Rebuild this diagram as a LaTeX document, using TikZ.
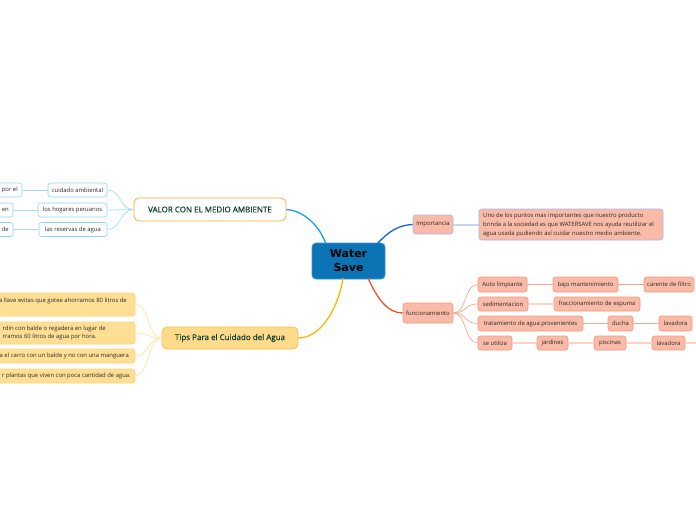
\documentclass[tikz,border=0pt]{standalone}
\usepackage{fontspec}
\setmainfont{Open Sans}
\newfontfamily\centerfont{DejaVu Sans}
\newfontfamily\semib[FakeBold=0.35]{Open Sans}
\definecolor{cfill}{HTML}{0A74B4}
\definecolor{cborder}{HTML}{3D92CF}
\definecolor{bluec}{HTML}{1BA1E2}
\definecolor{darkblue}{HTML}{1565D8}
\definecolor{yelc}{HTML}{F9B800}
\definecolor{redc}{HTML}{F0502A}
\definecolor{orangeb}{HTML}{F8A93A}
\definecolor{lblueb}{HTML}{8FD3F4}
\definecolor{lbluec}{HTML}{A6DCF5}
\definecolor{tipfill}{HTML}{FEDB8B}
\definecolor{tipborder}{HTML}{FBBF45}
\definecolor{tchfill}{HTML}{FEDF94}
\definecolor{tchborder}{HTML}{FDD57C}
\definecolor{tchc}{HTML}{FDE5A5}
\definecolor{salfill}{HTML}{F9BBA7}
\definecolor{salborder}{HTML}{F4977A}
\definecolor{salc}{HTML}{F6A68E}
\definecolor{salcl}{HTML}{FCD3C5}
\definecolor{impborder}{HTML}{A4B8EE}
\definecolor{impc}{HTML}{C0D6F5}
\definecolor{greentxt}{HTML}{0D3B2E}
\definecolor{txt}{HTML}{2B2B2B}
\tikzset{
  sbox/.style={draw, rounded corners=2.5pt, inner sep=0pt, line width=0.6pt,
    font=\fontsize{5.9}{7}\selectfont, text=txt},
  bluebox/.style={sbox, draw=lblueb, fill=white},
  tipbox/.style={sbox, draw=tchborder, fill=tchfill},
  salbox/.style={sbox, draw=salborder, fill=salfill},
  impbox/.style={sbox, draw=impborder, fill=salfill},
  bigbox/.style={draw, rounded corners=5pt, inner sep=0pt, line width=0.8pt,
    font=\semib\fontsize{8}{9.5}\selectfont, text=greentxt},
  tline/.style={inner sep=0pt, font=\fontsize{5.9}{8.7}\selectfont, text=txt, align=left},
  maincon/.style={line width=1.3pt},
  subcon/.style={line width=0.7pt},
}
\begin{document}
\begin{tikzpicture}[x=1pt,y=-1pt]
\useasboundingbox (0,0) rectangle (696,520);
\fill[white] (0,0) rectangle (696,520);

% ---------- connector start points on the centre node ----------
\coordinate (cA) at (326,244);
\coordinate (cB) at (343,278);
\coordinate (cC) at (377,244);
\coordinate (cD) at (368,278);

% ---------- nodes ----------
\node[draw=cborder, fill=cfill, rounded corners=4pt, line width=0.8pt,
  minimum width=73pt, minimum height=36pt, inner sep=0pt, align=center,
  font=\centerfont\bfseries\fontsize{11}{14}\selectfont] (center) at (348.5,261) {Water\\Save};

\node[bigbox, draw=orangeb, fill=white, minimum width=152pt, minimum height=23pt] (valor) at (210,209.5) {VALOR CON EL MEDIO AMBIENTE};
\node[bigbox, draw=tipborder, fill=tipfill, minimum width=136pt, minimum height=22pt] (tips) at (230,338) {Tips Para el Cuidado del Agua};

% VALOR children
\node[bluebox, minimum width=59pt, minimum height=14pt] (v1) at (77.5,190) {cuidado ambiental};
\node[bluebox, minimum width=69pt, minimum height=14pt] (v2) at (72.5,210) {los hogares peruanos};
\node[bluebox, minimum width=68pt, minimum height=14pt] (v3) at (73,229.5) {las reservas de agua};
\node[bluebox, minimum width=52pt, minimum height=14pt] (g1) at (-4,190) {};
\node[bluebox, minimum width=43pt, minimum height=14pt] (g2) at (-8.5,210) {};
\node[bluebox, minimum width=43pt, minimum height=14pt] (g3) at (-8.5,229.5) {};
\node[tline, anchor=east] (g1t) at (18,190) {por el};
\node[tline, anchor=east] (g2t) at (9,210) {en};
\node[tline, anchor=east] (g3t) at (9,229.5) {de};

% Tips children
\node[tipbox, minimum width=235pt, minimum height=23pt] (t1) at (17.5,304.5) {};
\node[tipbox, minimum width=235pt, minimum height=22pt] (t2) at (17.5,333) {};
\node[tipbox, minimum width=235pt, minimum height=14pt] (t3) at (17.5,356) {};
\node[tipbox, minimum width=235pt, minimum height=14pt] (t4) at (17.5,376) {};
\node[tline, anchor=east] (t1t) at (127,301) {a llave evitas que gotee ahorramos 80 litros de};
\node[tline, anchor=east] (t2t) at (106,333) {rdín con balde o regadera en lugar de\\rramos 60 litros de agua por hora.};
\node[tline, anchor=east] (t3t) at (129,356) {a el carro con un balde y no con una manguera};
\node[tline, anchor=east] (t4t) at (131,376) {r plantas que viven con poca cantidad de agua.};

% Importancia
\node[impbox, minimum width=40pt, minimum height=19pt] (imp) at (433,224.5) {Importancia};
\node[impbox, minimum width=184pt, minimum height=31pt] (desc) at (571,224.5) {};
\node[tline, anchor=west] (desct) at (483,225) {Uno de los puntos mas importantes que nuestro producto\\brinda a la sociedad es que WATERSAVE nos ayuda reutilizar el\\agua usada pudiendo así cuidar nuestro medio ambiente.};

% funcionamiento
\node[salbox, minimum width=50pt, minimum height=20pt] (func) at (428,313) {funcionamiento};
\node[salbox, minimum width=49pt, minimum height=15pt] (f1) at (502.5,284.5) {Auto limpiante};
\node[salbox, minimum width=50pt, minimum height=14pt] (f2) at (503,304) {sedimentacion};
\node[salbox, minimum width=105pt, minimum height=15pt] (f3) at (530.5,323.5) {tratamiento de agua provenientes};
\node[salbox, minimum width=34pt, minimum height=14pt] (f4) at (495,343) {se utiliza};
\node[salbox, minimum width=65pt, minimum height=15pt] (f1a) at (585.5,284.5) {bajo mantenimiento};
\node[salbox, minimum width=50pt, minimum height=15pt] (f1b) at (669,284.5) {carente de filtro};
\node[salbox, minimum width=86pt, minimum height=14pt] (f2a) at (597,304) {fraccionamiento de espuma};
\node[salbox, minimum width=25pt, minimum height=15pt] (f3a) at (620.5,323.5) {ducha};
\node[salbox, minimum width=33pt, minimum height=15pt] (f3b) at (675.5,323.5) {lavadora};
\node[salbox, minimum width=31pt, minimum height=14pt] (f4a) at (552.5,343) {jardines};
\node[salbox, minimum width=32pt, minimum height=14pt] (f4b) at (610,343) {piscinas};
\node[salbox, minimum width=33pt, minimum height=14pt] (f4c) at (668.5,343) {lavadora};
\coordinate (f4end) at (700,343);

% ---------- connectors ----------
\draw[maincon, bluec] (cA) .. controls (318,222) and (300,210) .. (valor.east);
\draw[maincon, yelc] (cB) .. controls (338,310) and (320,338) .. (tips.east);
\draw[maincon, darkblue] (cC) .. controls (388,232) and (398,225) .. (imp.west);
\draw[maincon, redc] (cD) .. controls (378,300) and (388,313) .. (func.west);

\foreach \n in {v1,v2,v3}
  \draw[subcon, lbluec] (valor.west) .. controls +(-14,0) and +(14,0) .. (\n.east);
\draw[subcon, lbluec] (v1.west) -- (g1.east);
\draw[subcon, lbluec] (v2.west) -- (g2.east);
\draw[subcon, lbluec] (v3.west) -- (g3.east);

\foreach \n in {t1,t2,t3,t4}
  \draw[subcon, tchc] (tips.west) .. controls +(-14,0) and +(14,0) .. (\n.east);

\draw[line width=2pt, impc] (imp.east) -- (desc.west);

\foreach \n in {f1,f2,f3,f4}
  \draw[subcon, salc] (func.east) .. controls +(14,0) and +(-14,0) .. (\n.west);
\draw[subcon, salc] (f1.east) -- (f1a.west);
\draw[subcon, salc] (f1a.east) -- (f1b.west);
\draw[line width=1.5pt, salcl] (f2.east) -- (f2a.west);
\draw[subcon, salc] (f3.east) -- (f3a.west);
\draw[subcon, salc] (f3a.east) -- (f3b.west);
\draw[line width=1.5pt, salcl] (f4.east) -- (f4a.west);
\draw[line width=1.5pt, salcl] (f4a.east) -- (f4b.west);
\draw[line width=1.5pt, salcl] (f4b.east) -- (f4c.west);
\draw[line width=1.5pt, salcl] (f4c.east) -- (f4end);
\end{tikzpicture}
\end{document}
